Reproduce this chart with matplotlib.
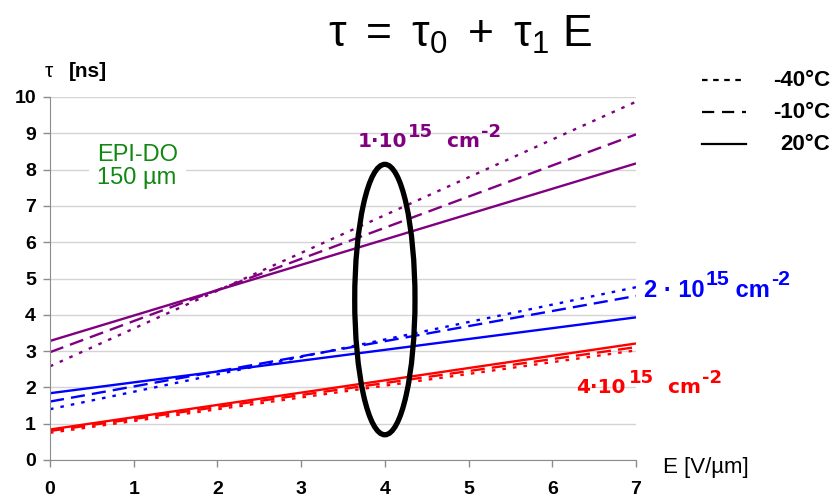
import matplotlib
matplotlib.use('Agg')
import matplotlib.pyplot as plt
from matplotlib.patches import Ellipse
from matplotlib.lines import Line2D

plt.rcParams['font.family'] = ['Liberation Sans', 'DejaVu Sans']
plt.rcParams['mathtext.fontset'] = 'custom'
plt.rcParams['mathtext.rm'] = 'Liberation Sans'
plt.rcParams['mathtext.it'] = 'Liberation Sans:italic'
plt.rcParams['mathtext.bf'] = 'Liberation Sans:bold'

# field values at the ends of the fitted lines
E = [0, 7]

# tau [ns], per fluence and temperature
tau_1e15_m40 = [2.58, 9.87]
tau_1e15_m10 = [2.97, 8.97]
tau_1e15_p20 = [3.28, 8.17]

tau_2e15_m40 = [1.40, 4.76]
tau_2e15_m10 = [1.61, 4.52]
tau_2e15_p20 = [1.84, 3.93]

tau_4e15_m40 = [0.75, 3.02]
tau_4e15_m10 = [0.80, 3.11]
tau_4e15_p20 = [0.84, 3.21]

temps = ['-40°C', '-10°C', '20°C']
x_ticks = [0, 1, 2, 3, 4, 5, 6, 7]
y_ticks = [0, 1, 2, 3, 4, 5, 6, 7, 8, 9, 10]

PURPLE = '#800080'
BLUE = '#0000ff'
RED = '#ff0000'

DOT = (1.5, 3)
DASH = (6, 3)

W, H = 835, 504
fig = plt.figure(figsize=(W / 100, H / 100), dpi=100)
ax = fig.add_axes([50 / W, 1 - 460 / H, 586 / W, 363 / H])
renderer = fig.canvas.get_renderer()


def fx(px):
    return px / W


def fy(py):
    return 1 - py / H


def fluence_label(x, y, mant, color, size, family, dot='·', gap=' ', sup_gap=0):
    # "m·10^15 cm^-2" built piece by piece so the superscripts stay large
    pieces = [(mant + dot + '10', 0, size, 0), ('15', 0.5, size * 0.9, sup_gap),
              (gap + 'cm', 0, size, 0), ('-2', 0.5, size * 0.9, 1)]
    for s, rise, sz, shift in pieces:
        t = fig.text(fx(x + shift), fy(y) + rise * size * 1.39 / H, s, color=color,
                     fontsize=sz, fontweight='bold', family=family,
                     ha='left', va='baseline')
        x = t.get_window_extent(renderer).x1


series = [
    (tau_1e15_m40, PURPLE, DOT), (tau_1e15_m10, PURPLE, DASH), (tau_1e15_p20, PURPLE, None),
    (tau_2e15_m40, BLUE, DOT), (tau_2e15_m10, BLUE, DASH), (tau_2e15_p20, BLUE, None),
    (tau_4e15_m40, RED, DOT), (tau_4e15_m10, RED, DASH), (tau_4e15_p20, RED, None),
]
for vals, col, dash in series:
    ln, = ax.plot(E, vals, color=col, lw=1.7, solid_capstyle='butt')
    if dash is not None:
        ln.set_dashes(dash)

# the ellipse marking E = 4 V/um
ax.add_patch(Ellipse((4, 4.42), width=0.72, height=7.45, fill=False,
                     edgecolor='black', lw=3.8, zorder=5))

ax.set_xlim(0, 7)
ax.set_ylim(0, 10)
ax.set_xticks(x_ticks)
ax.set_yticks(y_ticks)
ax.grid(axis='y', color='#d4d4d4', lw=1)
ax.set_axisbelow(True)
for s in ['top', 'right']:
    ax.spines[s].set_visible(False)
for s in ['left', 'bottom']:
    ax.spines[s].set_color('#8c8c8c')
ax.tick_params(axis='both', colors='#8c8c8c', labelcolor='black', length=5, width=1)
ax.tick_params(axis='x', pad=10)
ax.tick_params(axis='y', pad=5)
for lab in ax.get_xticklabels() + ax.get_yticklabels():
    lab.set_fontsize(14)
    lab.set_fontweight('bold')

# axis labels
fig.text(fx(45), fy(77), 'τ', fontsize=15, va='baseline', ha='left')
fig.text(fx(69), fy(77), '[ns]', fontsize=15, fontweight='bold', va='baseline', ha='left')
fig.text(fx(663), fy(467), 'E [V/µm]', fontsize=16, va='center', ha='left')

# title
fig.text(fx(460), fy(47), r'$\mathregular{τ\ =\ τ_0\ +\ τ_1\ E}$', fontsize=32,
         ha='center', va='baseline')

# fluence labels
fluence_label(358, 147, '1', PURPLE, 14.5, 'DejaVu Sans', gap='  ', sup_gap=0)
fluence_label(644, 297, '2', BLUE, 17, 'Liberation Sans', dot=' · ', gap=' ', sup_gap=1)
fluence_label(576, 393, '4', RED, 14.5, 'DejaVu Sans', gap='  ', sup_gap=3)

fig.text(fx(97), fy(144), 'EPI-DO\n150 µm', color='#118811', fontsize=17,
         ha='left', va='top', linespacing=1.05,
         bbox=dict(facecolor='white', edgecolor='none', boxstyle='square,pad=0.35'))

# temperature key
key_dash = [(2.5, 2.5), (5.5, 3.5), None]
for i, (t, d) in enumerate(zip(temps, key_dash)):
    yy = fy(80 + 32 * i)
    kl = Line2D([fx(702), fx(746)], [yy, yy], transform=fig.transFigure,
                color='black', lw=1.6)
    if d is not None:
        kl.set_dashes(d)
    fig.add_artist(kl)
    fig.text(fx(830), yy, t, fontsize=16, fontweight='bold', ha='right', va='center')

fig.savefig('out.png', dpi=100)
